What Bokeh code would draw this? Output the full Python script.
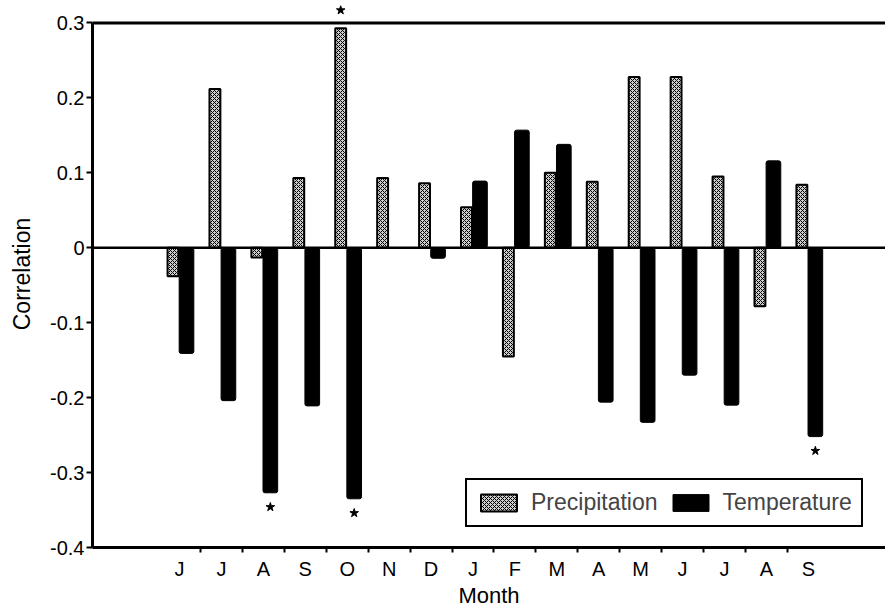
import numpy as np
from bokeh.plotting import figure
from bokeh.models import (FixedTicker, LinearAxis, Span, Range1d, Legend,
                          LegendItem, ColumnDataSource)
from bokeh.embed import file_html
from bokeh.resources import INLINE

# ---- data ----
months = ["J", "J", "A", "S", "O", "N", "D", "J", "F", "M", "A", "M", "J", "J", "A", "S"]
precipitation = [-0.038, 0.212, -0.013, 0.093, 0.293, 0.093, 0.086, 0.054,
                 -0.145, 0.100, 0.088, 0.228, 0.228, 0.095, -0.078, 0.084]
temperature = [-0.141, -0.204, -0.327, -0.211, -0.335, 0.0, -0.014, 0.089,
               0.157, 0.138, -0.206, -0.233, -0.170, -0.210, 0.116, -0.252]
y_ticks = [-0.4, -0.3, -0.2, -0.1, 0.0, 0.1, 0.2, 0.3]
y_tick_labels = ["-0.4", "-0.3", "-0.2", "-0.1", "0", "0.1", "0.2", "0.3"]
star_precip_months = [4]          # significant precipitation correlations
star_temp_months = [2, 4, 15]     # significant temperature correlations

FONT = "Liberation Sans"
Y_MIN, Y_MAX = -0.4, 0.3

xs = np.arange(len(months))
p = figure(width=885, height=610, output_backend="svg", toolbar_location=None,
           x_range=Range1d(-2.075, 16.84), y_range=Range1d(Y_MIN, 0.33),
           min_border_left=92, min_border_right=0, min_border_top=0,
           min_border_bottom=61, x_axis_type=None, y_axis_type=None)
p.outline_line_color = None
p.background_fill_color = "white"
p.border_fill_color = "white"

# x axis: labels at month centres, tick marks between months
xaxis = LinearAxis(
    ticker=FixedTicker(ticks=list(range(len(months))),
                       minor_ticks=[i + 0.5 for i in range(len(months) - 1)]),
    major_label_overrides={int(i): m for i, m in enumerate(months)},
    axis_label="Month")
xaxis.axis_line_width = 3
xaxis.major_tick_out = 0
xaxis.major_tick_in = 0
xaxis.minor_tick_out = 5
xaxis.minor_tick_in = 0
xaxis.minor_tick_line_width = 2
xaxis.major_label_text_font = FONT
xaxis.major_label_text_font_size = "20px"
xaxis.major_label_text_color = "black"
xaxis.major_label_standoff = 5
xaxis.axis_label_text_font = FONT
xaxis.axis_label_text_font_size = "22px"
xaxis.axis_label_text_font_style = "normal"
xaxis.axis_label_text_color = "black"
xaxis.axis_label_standoff = 0
p.add_layout(xaxis, "below")

yaxis = LinearAxis(ticker=FixedTicker(ticks=y_ticks),
                   major_label_overrides=dict(zip(y_ticks, y_tick_labels)),
                   axis_label="Correlation", bounds=(Y_MIN, Y_MAX))
yaxis.axis_line_width = 3
yaxis.major_tick_out = 6
yaxis.major_tick_in = 0
yaxis.major_tick_line_width = 2
yaxis.minor_tick_line_color = None
yaxis.major_label_text_font = FONT
yaxis.major_label_text_font_size = "20px"
yaxis.major_label_text_color = "black"
yaxis.major_label_standoff = 2
yaxis.axis_label_text_font = FONT
yaxis.axis_label_text_font_size = "23px"
yaxis.axis_label_text_font_style = "normal"
yaxis.axis_label_text_color = "black"
yaxis.axis_label_standoff = 12
p.add_layout(yaxis, "left")

# top frame line at 0.3
p.add_layout(Span(location=Y_MAX, dimension="width", line_color="black",
                  line_width=3))

src = ColumnDataSource(dict(xp=xs - 0.155, xt=xs + 0.167,
                            precip=precipitation, temp=temperature))
r1 = p.vbar(x="xp", top="precip", bottom=0, width=0.26, source=src,
            fill_color="#cfcfcf", hatch_pattern="x", hatch_scale=4,
            hatch_color="black", hatch_weight=1,
            line_color="black", line_width=2)
r2 = p.vbar(x="xt", top="temp", bottom=0, width=0.35, source=src,
            fill_color="black", line_color="black", line_width=1,
            border_radius=2)

p.add_layout(Span(location=0, dimension="width", line_color="black",
                  line_width=2.5))

# significance stars
star_x = [xs[i] - 0.155 for i in star_precip_months] + \
         [xs[i] + 0.167 for i in star_temp_months]
star_y = [precipitation[i] + 0.024 for i in star_precip_months] + \
         [temperature[i] - 0.019 for i in star_temp_months]
p.scatter(star_x, star_y, marker="star", size=9, color="black")

legend = Legend(items=[LegendItem(label="Precipitation", renderers=[r1]),
                       LegendItem(label="Temperature", renderers=[r2])],
                orientation="horizontal", location=(373, 20),
                glyph_width=45, glyph_height=21,
                label_text_font=FONT, label_text_font_size="23px",
                border_line_color="black", border_line_width=2,
                border_line_alpha=1.0, background_fill_alpha=1.0,
                padding=9, spacing=10, label_standoff=10, margin=0)
p.add_layout(legend)

open("out.html", "w").write(file_html(p, INLINE))
